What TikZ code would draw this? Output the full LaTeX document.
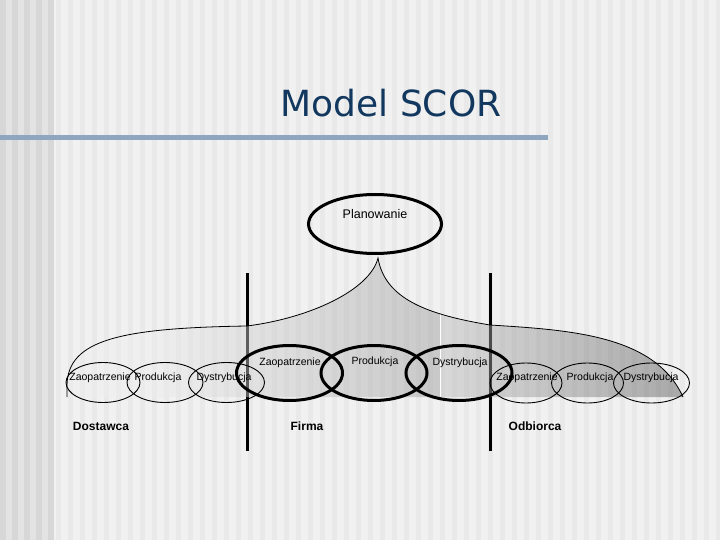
\documentclass[tikz,border=0pt]{standalone}
\usepackage{fontspec}
\setmainfont{Liberation Sans}
\newfontfamily\titlefont{DejaVu Sans}
\usetikzlibrary{shapes.geometric}
\definecolor{titleblue}{HTML}{12385F}
\definecolor{barblue}{HTML}{8FA6BF}
\definecolor{bgbase}{HTML}{F1F1F1}
\definecolor{bgstripe}{HTML}{E9E9E9}
\definecolor{bandbase}{HTML}{E3E3E3}
\definecolor{bandstripe}{HTML}{D7D7D7}
\definecolor{shLa}{gray}{0.933}
\definecolor{shLb}{gray}{0.60}
\definecolor{shRa}{gray}{0.741}
\definecolor{shRb}{gray}{0.31}
\begin{document}
\begin{tikzpicture}[x=1pt,y=-1pt,
  thickell/.style={ellipse, draw, line width=3pt, inner sep=0pt, minimum width=106pt, minimum height=55pt},
  thinell/.style={ellipse, draw, line width=0.9pt, inner sep=0pt, minimum width=74pt, minimum height=40pt},
  lbl/.style={font=\fontsize{10.5}{12}\selectfont, inner sep=0pt},
  role/.style={font=\fontsize{12}{14}\selectfont\bfseries, inner sep=0pt},
  divider/.style={line width=3pt},
  planline/.style={line width=0.8pt},
  veil/.style={fill opacity=0.45, opacity=0.45}]
\useasboundingbox (0,0) rectangle (720,540);
% background
\fill[bgbase] (0,0) rectangle (720,540);
\foreach \x in {56,68,...,716} \fill[bgstripe] (\x,0) rectangle (\x+5,540);
\fill[bandbase] (0,0) rectangle (53,540);
\foreach \x in {0,12,...,48} \fill[bandstripe] (\x,0) rectangle (\x+6,540);
% title and bar
\fill[barblue] (0,135.5) rectangle (548,140.5);
\node[font=\titlefont\fontsize{36}{40}\selectfont, text=titleblue, anchor=base, inner sep=0pt] (title) at (391,117) {Model SCOR};
% dividers
\coordinate (d1t) at (247,273); \coordinate (d1b) at (247,451);
\coordinate (d2t) at (490,273); \coordinate (d2b) at (490,451);
\draw[divider] (d1t) -- (d1b);
\draw[divider] (d2t) -- (d2b);
% planning node
\node[thickell, minimum width=133pt, minimum height=59pt] (plan) at (375,224) {};
\node[font=\fontsize{12.5}{14}\selectfont, inner sep=0pt] (plantxt) at (375,214) {Planowanie};
\coordinate (apex) at (378,258);
\coordinate (lend) at (67,397);
\coordinate (rend) at (683,397);
% shaded region
\begin{scope}
\clip (lend) -- (67,385) .. controls (68,340) and (120,328) .. (247,326) .. controls (310,318) and (370,290) .. (apex) .. controls (385,300) and (430,315) .. (490,325) .. controls (570,330) and (655,335) .. (rend) -- cycle;
\shade[veil, left color=shLa, right color=shLa] (60,250) rectangle (150,400);
\shade[veil, left color=shLa, right color=shLb] (150,250) rectangle (440,400);
\shade[veil, left color=shRa, right color=shRb] (440,250) rectangle (690,400);
\draw[white, line width=1pt] (440,250) -- (440,400);
\end{scope}
\draw[planline] (lend) -- (67,385) .. controls (68,340) and (120,328) .. (247,326) .. controls (310,318) and (370,290) .. (apex) .. controls (385,300) and (430,315) .. (490,325) .. controls (570,330) and (655,335) .. (rend);
% supplier
\node[thinell] (sz) at (103,382.5) {};
\node[thinell, minimum width=76pt] (sp) at (165,382.5) {};
\node[thinell, minimum width=76pt] (sd) at (226.5,382.5) {};
% customer
\node[thinell, minimum width=72pt] (cz) at (526,383) {};
\node[thinell, minimum width=72pt] (cp) at (587.5,383) {};
\node[thinell, minimum width=76pt] (cd) at (651.5,383) {};
% firm
\node[thickell] (fz) at (289.5,373) {};
\node[thickell] (fp) at (374,373) {};
\node[thickell] (fd) at (459,373) {};
% labels
\node[lbl] (szt) at (100,378) {Zaopatrzenie};
\node[lbl] (spt) at (158,378) {Produkcja};
\node[lbl] (sdt) at (224,378) {Dystrybucja};
\node[lbl] (fzt) at (290,363) {Zaopatrzenie};
\node[lbl] (fpt) at (375,362) {Produkcja};
\node[lbl] (fdt) at (460,363) {Dystrybucja};
\node[lbl] (czt) at (527,378) {Zaopatrzenie};
\node[lbl] (cpt) at (590,378) {Produkcja};
\node[lbl] (cdt) at (651,378) {Dystrybucja};
\node[role] (dost) at (101,426) {Dostawca};
\node[role] (firma) at (307,426) {Firma};
\node[role] (odb) at (535,426) {Odbiorca};
\end{tikzpicture}
\end{document}
